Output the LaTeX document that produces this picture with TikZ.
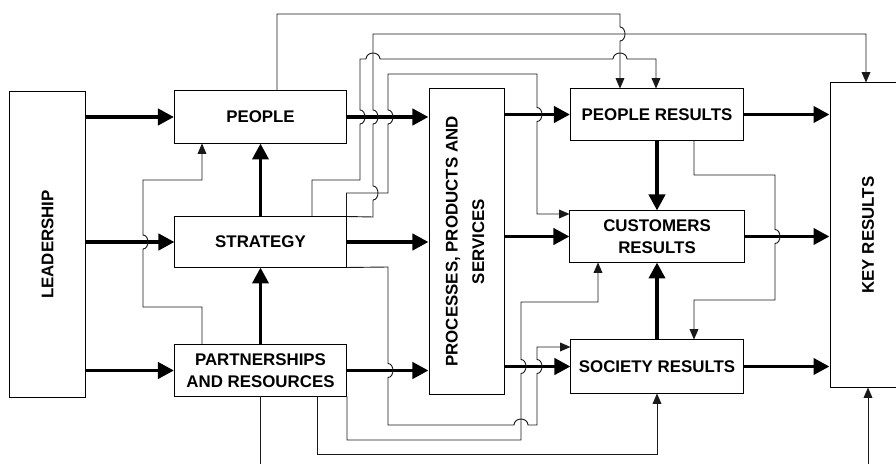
\documentclass[tikz,border=0pt]{standalone}
\usepackage{fontspec}
\setmainfont{Liberation Sans}
\usepackage{tikz}
\usetikzlibrary{arrows.meta}
\tikzset{
  block/.style={draw, line width=0.7pt, inner sep=0pt, align=center, font=\fontsize{12}{15.5}\selectfont\bfseries},
  flow/.style={line width=2.8pt, -{Triangle[length=4mm,width=4mm]}},
  link/.style={line width=0.65pt, draw=black!90, -{Triangle[length=2.6mm,width=2.2mm]}}
}
% small hops where a thin line jumps over another line
\newcommand{\hopup}[2]{-- (#1,#2+7) arc[start angle=-90,end angle=90,x radius=1.25mm,y radius=1.75mm]}
\newcommand{\hopdown}[2]{-- (#1,#2-7) arc[start angle=90,end angle=-90,x radius=1.25mm,y radius=1.75mm]}
\newcommand{\hopright}[2]{-- (#1-7,#2) arc[start angle=180,end angle=0,x radius=1.75mm,y radius=1.5mm]}

\begin{document}
\begin{tikzpicture}[x=0.025cm, y=-0.025cm]
\clip (0,0) rectangle (896,464);

% enablers
\node[block, minimum width=1.875cm, minimum height=7.625cm] (lead) at (47.5,244.5) {\rotatebox{90}{LEADERSHIP}};
\node[block, minimum width=4.3cm, minimum height=1.3cm] (people) at (260.5,117) {PEOPLE};
\node[block, minimum width=4.275cm, minimum height=1.25cm] (strat) at (260.5,242) {STRATEGY};
\node[block, minimum width=4.3cm, minimum height=1.275cm] (partn) at (260.5,370.5) {PARTNERSHIPS\\AND RESOURCES};
\node[block, minimum width=1.875cm, minimum height=7.625cm] (proc) at (466.5,241.5)
  {\rotatebox{90}{\begin{tabular}{@{}c@{}}PROCESSES, PRODUCTS AND\\[3.5pt]SERVICES\end{tabular}}};
% results
\node[block, minimum width=4.325cm, minimum height=1.275cm] (peopR) at (657,114.5) {PEOPLE RESULTS};
\node[block, minimum width=4.35cm, minimum height=1.275cm] (custR) at (657,236.5) {CUSTOMERS\\RESULTS};
\node[block, minimum width=4.3cm, minimum height=1.325cm] (socR) at (657,366.5) {SOCIETY RESULTS};
\node[block, minimum width=1.9cm, minimum height=7.6cm] (keyR) at (868,235) {\rotatebox{90}{KEY RESULTS}};

% main flow
\foreach \n in {people,strat,partn}
  \draw[flow] (lead.east |- \n.west) -- (\n.west);
\foreach \n in {people,strat,partn}
  \draw[flow] (\n.east) -- (proc.west |- \n.east);
\foreach \n in {peopR,custR,socR}
  \draw[flow] (proc.east |- \n.west) -- (\n.west);
\foreach \n in {peopR,custR,socR}
  \draw[flow] (\n.east) -- (keyR.west |- \n.east);
\draw[flow] (strat.north) -- (people.south);
\draw[flow] (partn.north) -- (strat.south);
\draw[flow] (peopR.south) -- (custR.north);
\draw[flow] (socR.north) -- (custR.south);

% feedback links
\draw[link] (people.north -| 277,0) -- (277,14) -- (620,14) \hopdown{620}{34} -- (peopR.north -| 620,0);
\draw[link] (strat.north east) -- (373,217) \hopup{373}{193} \hopup{373}{117} -- (373,34) -- (866,34) -- (keyR.north -| 866,0);
\draw[link] (strat.north -| 312,0) |- (360,180) \hopup{360}{117} -- (360,59) \hopright{373}{59} \hopright{620}{59} -- (656,59) -- (peopR.north -| 656,0);
\draw[link] (strat.north east) |- (388,193) \hopup{388}{117} -- (388,74) -- (537,74) \hopdown{537}{114.5} -- (537,214) -- (custR.west |- 0,214);
\draw[link] (strat.south east) -- (388,267) \hopdown{388}{370.5} -- (388,425) \hopright{521}{425} -- (537,425) \hopup{537}{366.5} -- (537,347) -- (socR.west |- 0,347);
\draw[link] (partn.north -| 202,0) |- (143,307) \hopup{143}{242} -- (143,180) -| (people.south -| 202,0);
\draw[link] (partn.south east) |- (521,440) \hopup{521}{366.5} -- (521,302) -| (custR.south -| 598,0);
\draw[link] (partn.south -| 317,0) -- (317,454) -| (socR.south);
\coordinate (below) at (0,490);
\draw[link] (partn.south) -- (partn.south |- below) -| (keyR.south);
\draw[link] (peopR.south -| 694,0) |- (775,175) \hopdown{775}{236.5} -- (775,300) -| (socR.north -| 694,0);
\end{tikzpicture}
\end{document}
